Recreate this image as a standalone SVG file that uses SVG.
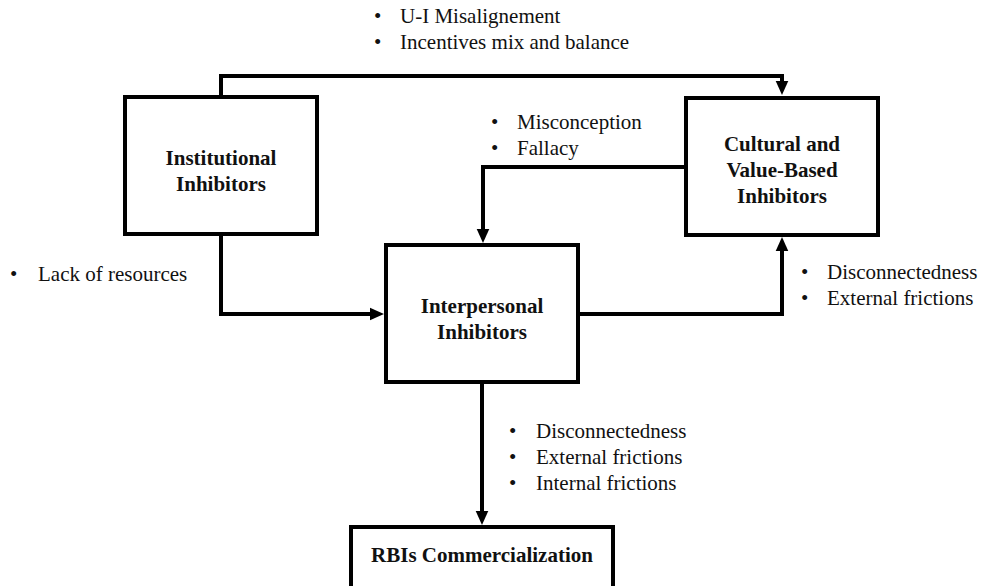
<svg xmlns="http://www.w3.org/2000/svg" width="982" height="586" viewBox="0 0 982 586">
<defs>
<style>
.box{fill:#fff;stroke:#000;stroke-width:4}
.lbl{font-family:"Liberation Serif","Times New Roman",serif;font-weight:bold;font-size:21px;fill:#111;text-anchor:middle}
.txt{font-family:"Liberation Serif","Times New Roman",serif;font-size:21px;fill:#111}
.con{fill:none;stroke:#000;stroke-width:4;stroke-linejoin:miter}
</style>
<marker id="arr" viewBox="0 0 10 10" refX="4.3" refY="5" markerWidth="14" markerHeight="14" markerUnits="userSpaceOnUse" orient="auto">
<path d="M0,0.5 L10,5 L0,9.5 z" fill="#000"/>
</marker>
</defs>
<rect width="982" height="586" fill="#fff"/>
<g id="connectors">
<path class="con" d="M221,97 V76 H782 V87" marker-end="url(#arr)"/>
<path class="con" d="M686,167 H483 V235" marker-end="url(#arr)"/>
<path class="con" d="M221,234 V314 H376" marker-end="url(#arr)"/>
<path class="con" d="M578,314 H782 V245" marker-end="url(#arr)"/>
<path class="con" d="M482,382 V517" marker-end="url(#arr)"/>
</g>
<g id="institutional">
<rect class="box" x="125" y="97" width="192" height="137"/>
<text class="lbl" x="221" y="165">Institutional</text>
<text class="lbl" x="221" y="191">Inhibitors</text>
</g>
<g id="cultural">
<rect class="box" x="686" y="98" width="192" height="137"/>
<text class="lbl" x="782" y="151">Cultural and</text>
<text class="lbl" x="782" y="177">Value-Based</text>
<text class="lbl" x="782" y="203">Inhibitors</text>
</g>
<g id="interpersonal">
<rect class="box" x="386" y="245" width="192" height="137"/>
<text class="lbl" x="482" y="313">Interpersonal</text>
<text class="lbl" x="482" y="339">Inhibitors</text>
</g>
<g id="rbis">
<rect class="box" x="351" y="527" width="262" height="70"/>
<text class="lbl" x="482" y="562">RBIs Commercialization</text>
</g>
<g id="labels">
<text class="txt" x="374" y="23">•</text><text class="txt" x="400" y="23">U-I Misalignement</text>
<text class="txt" x="374" y="49">•</text><text class="txt" x="400" y="49">Incentives mix and balance</text>
<text class="txt" x="491" y="129">•</text><text class="txt" x="517" y="129">Misconception</text>
<text class="txt" x="491" y="155">•</text><text class="txt" x="517" y="155">Fallacy</text>
<text class="txt" x="10" y="281">•</text><text class="txt" x="38" y="281">Lack of resources</text>
<text class="txt" x="801" y="279">•</text><text class="txt" x="827" y="279">Disconnectedness</text>
<text class="txt" x="801" y="305">•</text><text class="txt" x="827" y="305">External frictions</text>
<text class="txt" x="509" y="438">•</text><text class="txt" x="536" y="438">Disconnectedness</text>
<text class="txt" x="509" y="464">•</text><text class="txt" x="536" y="464">External frictions</text>
<text class="txt" x="509" y="490">•</text><text class="txt" x="536" y="490">Internal frictions</text>
</g>
</svg>
